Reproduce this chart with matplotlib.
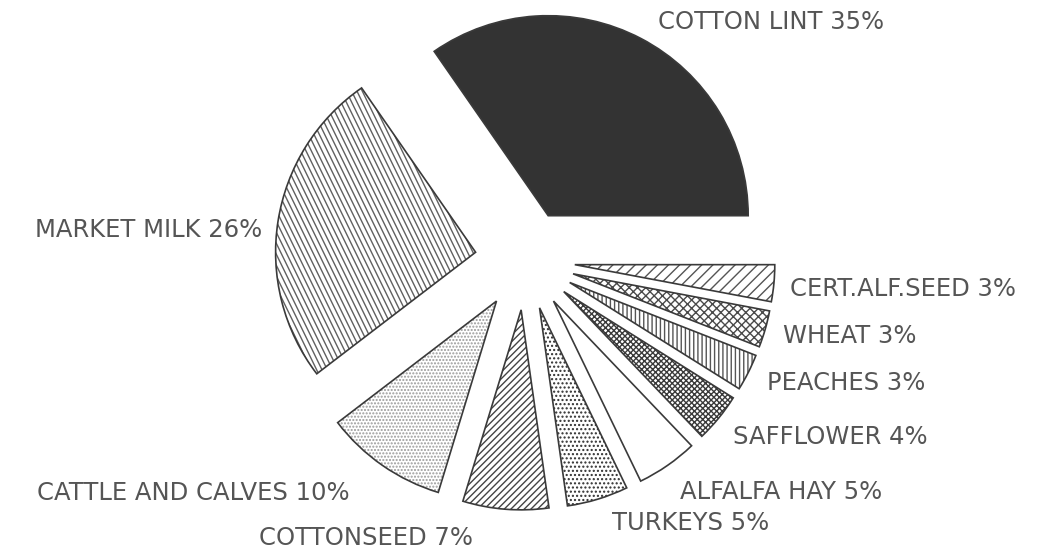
import numpy as np
import matplotlib
matplotlib.use("Agg")
import matplotlib.pyplot as plt
from matplotlib.patches import Wedge

# ---- data ----
categories = ["COTTON LINT", "MARKET MILK", "CATTLE AND CALVES", "COTTONSEED",
              "TURKEYS", "ALFALFA HAY", "SAFFLOWER", "PEACHES", "WHEAT",
              "CERT.ALF.SEED"]
shares = [35, 26, 10, 7, 5, 5, 4, 3, 3, 3]

# ---- styles ----
faces = ["#333333", "white", "white", "white", "white", "white", "white",
         "white", "white", "white"]
hatches = [None, None, ".....", "/////", "....", None, "xxxxxx", "||||", "xxxx", "///"]
hatch_cols = ["#333333", "#555555", "#9a9a9a", "#444444", "#2e2e2e", "#444444",
              "#3a3a3a", "#555555", "#4a4a4a", "#555555"]
# label anchor (x, y, ha) in data units (pie radius = 1)
label_pos = [(1.23, 1.19, "center"), (-1.315, 0.15, "right"),
             (-0.875, -1.165, "right"), (-0.795, -1.39, "center"),
             (0.83, -1.315, "center"), (0.775, -1.16, "left"),
             (1.04, -0.885, "left"), (1.21, -0.615, "left"),
             (1.29, -0.38, "left"), (1.325, -0.145, "left")]

plt.rcParams["hatch.linewidth"] = 1.0
fig = plt.figure(figsize=(10.52, 5.54), dpi=100)
ax = fig.add_axes([0, 0, 1, 1])

wedges, _ = ax.pie(shares, startangle=0, counterclock=True, radius=1.0,
                   explode=[0.25] * len(shares), colors=faces,
                   wedgeprops=dict(linewidth=0))
ax.set_xlim(-2.625, 2.635)
ax.set_ylim(-1.47, 1.30)
ax.set_aspect("equal")
ax.axis("off")

for w, h, hc in zip(wedges, hatches, hatch_cols):
    w.set_edgecolor(hc)
    if h:
        w.set_hatch(h)
    # outline
    ax.add_patch(Wedge(w.center, w.r, w.theta1, w.theta2, fill=False,
                       edgecolor="#3a3a3a", linewidth=1.2, zorder=3))

# custom steep hatching for market milk
mw = wedges[1]
cx, cy = mw.center
ang = np.deg2rad(-64)
d = np.array([np.cos(ang), np.sin(ang)])
nrm = np.array([-d[1], d[0]])
for off in np.arange(-1.5, 1.5, 0.024):
    p0 = np.array([cx, cy]) + nrm * off - d * 1.5
    p1 = np.array([cx, cy]) + nrm * off + d * 1.5
    ln, = ax.plot([p0[0], p1[0]], [p0[1], p1[1]], color="#606060", lw=1.0,
                  zorder=2)
    ln.set_clip_path(mw)

for name, v, (x, y, ha) in zip(categories, shares, label_pos):
    ax.text(x, y, f"{name} {v}%", ha=ha, va="center", fontsize=17.5,
            color="#555555", family="DejaVu Sans")

fig.savefig("out.png", dpi=100, facecolor="white")
